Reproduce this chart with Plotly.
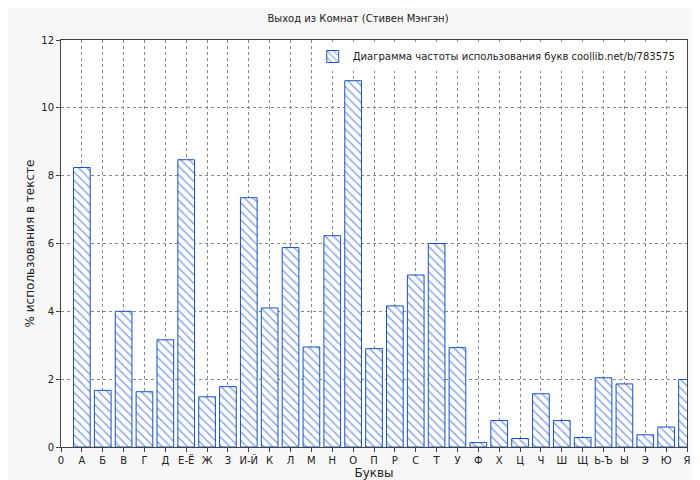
import plotly.graph_objects as go

letters = ["0", "А", "Б", "В", "Г", "Д", "Е-Ё", "Ж", "З", "И-Й", "К", "Л", "М", "Н", "О", "П",
           "Р", "С", "Т", "У", "Ф", "Х", "Ц", "Ч", "Ш", "Щ", "Ь-Ъ", "Ы", "Э", "Ю", "Я"]
bar_letters = letters[1:]
values = [8.24, 1.67, 4.0, 1.63, 3.16, 8.47, 1.48, 1.78, 7.35, 4.1, 5.88, 2.95, 6.23, 10.8, 2.9,
          4.16, 5.07, 6.0, 2.93, 0.13, 0.78, 0.25, 1.57, 0.78, 0.28, 2.04, 1.86, 0.36, 0.59, 1.99]

blue = "#1550c8"
fig = go.Figure()
fig.add_trace(go.Bar(
    x=list(range(1, len(bar_letters) + 1)),
    y=values,
    width=0.8,
    name="Диаграмма частоты использования букв coollib.net/b/783575",
    marker=dict(color="white", line=dict(color=blue, width=1),
                pattern=dict(shape="\\", fgcolor=blue, bgcolor="white", size=6, solidity=0.25)),
))

axis_common = dict(showline=True, linecolor="#444", mirror=True, ticks="outside",
                   ticklen=4, tickcolor="#444", showgrid=True, gridcolor="#888",
                   griddash="dot", gridwidth=1, zeroline=False, automargin=False)
fig.update_layout(
    width=700, height=480,
    margin=dict(l=53, r=21, t=32, b=41),
    paper_bgcolor="#f7f7f7", plot_bgcolor="white",
    font=dict(family="DejaVu Sans", size=10, color="#222"),
    title=dict(text="Выход из Комнат (Стивен Мэнгэн)", x=0.5, y=0.985, yanchor="top",
               font=dict(size=10)),
    showlegend=True,
    legend=dict(x=0.99, y=0.995, xanchor="right", yanchor="top", bgcolor="white",
                font=dict(size=10)),
    bargap=0.2,
)
fig.update_xaxes(range=[0, 30], tickmode="array", tickvals=list(range(len(letters))),
                 ticktext=letters, title=dict(text="Буквы", standoff=2), **axis_common)
fig.update_yaxes(range=[0, 12], dtick=2, title=dict(text="% использования в тексте", standoff=4),
                 **axis_common)

fig.write_html("out.html")
